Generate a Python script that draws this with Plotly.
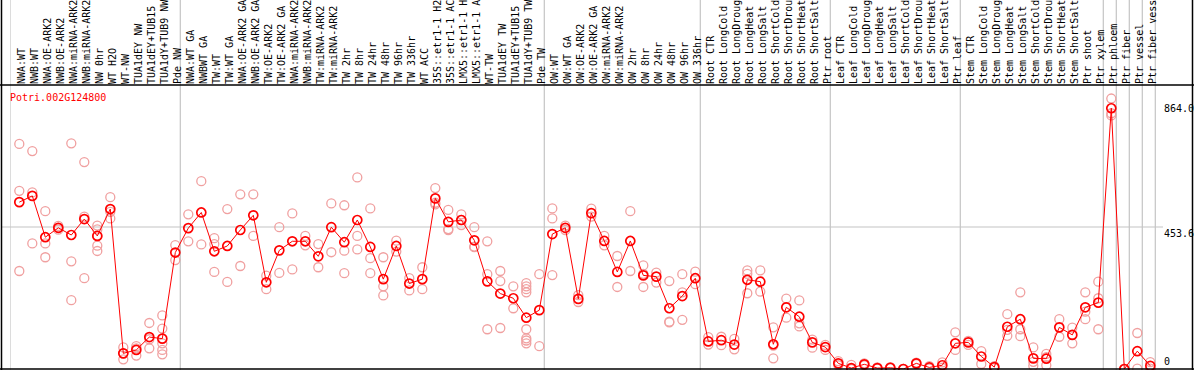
import plotly.graph_objects as go

gene = "Potri.002G124800"

labels = [
    "NWA:WT", "NWB:WT", "NWA:OE-ARK2", "NWB:OE-ARK2", "NWA:miRNA-ARK2", "NWB:miRNA-ARK2",
    "NW 0hr", "WT H2O", "WT-NW", "TUA1dEY NW", "TUA1dEY+TUB15", "TUA1dY+TUB9 NW", "Pde NW",
    "NWA:WT GA", "NWBWT GA", "TW:WT", "TW:WT GA", "NWA:OE-ARK2 GA", "NWB:OE-ARK2 GA",
    "TW:OE-ARK2", "TW:OE-ARK2 GA", "NWA:miRNA-ARK2", "NWB:miRNA-ARK2", "TW:miRNA-ARK2",
    "TW:miRNA-ARK2", "TW 2hr", "TW 8hr", "TW 24hr", "TW 48hr", "TW 96hr", "TW 336hr", "WT ACC",
    "35S::etr1-1 H2", "35S::etr1-1 AC", "LMX5::etr1-1 H", "LMX5::etr1-1 A", "WT-TW",
    "TUA1dEY TW", "TUA1dEY+TUB15", "TUA1dY+TUB9 TW", "Pde TW",
    "OW:WT", "OW:WT GA", "OW:OE-ARK2", "OW:OE-ARK2 GA", "OW:miRNA-ARK2", "OW:miRNA-ARK2",
    "OW 2hr", "OW 8hr", "OW 24hr", "OW 48hr", "OW 96hr", "OW 336hr",
    "Root CTR", "Root LongCold", "Root LongDroug", "Root LongHeat", "Root LongSalt",
    "Root ShortCold", "Root ShortDrou", "Root ShortHeat", "Root ShortSalt", "Ptr root",
    "Leaf CTR", "Leaf LongCold", "Leaf LongDroug", "Leaf LongHeat", "Leaf LongSalt",
    "Leaf ShortCold", "Leaf ShortDrou", "Leaf ShortHeat", "Leaf ShortSalt", "Ptr leaf",
    "Stem CTR", "Stem LongCold", "Stem LongDroug", "Stem LongHeat", "Stem LongSalt",
    "Stem ShortCold", "Stem ShortDrou", "Stem ShortHeat", "Stem ShortSalt", "Ptr shoot",
    "Ptr xylem", "Ptr phloem", "Ptr fiber", "Ptr vessel", "Ptr fiber vess",
]

means = [
    533, 553, 421, 451, 428, 479, 425, 511, 50, 61, 102, 97, 372,
    450, 500, 376, 393, 444, 491, 277, 379, 408, 408, 360, 453, 405, 476, 390, 287, 393,
    273, 287, 545, 470, 476, 411, 280, 241, 226, 164, 188,
    431, 451, 224, 498, 409, 310, 409, 299, 295, 194, 233, 290,
    88, 92, 78, 285, 279, 79, 197, 167, 85, 70,
    18, 3, 15, 3, 4, 0, 18, 5, 12, 82,
    85, 40, 6, 135, 159, 34, 33, 133, 109, 197, 212,
    833, 0, 57, 10,
]

replicates = [
    [719, 569, 313], [696, 564, 401], [504, 401, 357], [445, 451, 457], [721, 344, 220],
    [661, 487, 290], [458, 446, 425, 394, 377], [549, 502, 481], [69, 31, 50], [73, 43, 66],
    [147, 66, 95], [171, 129, 82, 61, 47], [396, 348],
    [494, 408], [600, 398], [418, 399, 310], [511, 278], [558, 329], [558, 425], [298, 255],
    [453, 307], [497, 318], [425, 395], [399, 325], [529, 373], [523, 378, 306],
    [612, 425, 382], [513, 354, 306], [357, 264, 235], [410, 375], [290, 251], [325, 255],
    [578, 526, 531], [508, 447, 444], [494, 460, 476], [453, 391, 389], [408, 303, 127],
    [313, 281, 131], [264, 194], [274, 264, 255, 245, 127, 98, 91, 82], [303, 73],
    [513, 481, 300], [458, 444], [236, 214], [512, 487], [425, 395], [361, 262], [504, 313],
    [331, 262, 304], [308, 276], [281, 149, 151], [303, 245, 157], [311, 271],
    [102, 78], [103, 76], [96, 63], [315, 304, 242], [315, 247], [133, 75, 34], [225, 164],
    [219, 136, 146], [94, 68], [77, 61],
    [25, 12], [13, 0], [18, 12], [5, 1], [6, 2], [0, 0], [20, 16], [9, 1], [21, 4], [117, 61],
    [90, 77], [57, 16], [9, 3], [175, 106, 125], [245, 127, 105], [69, 23, 10], [48, 38, 12],
    [159, 103], [132, 82], [245, 183, 159], [279, 226, 127],
    [864.0, 817, 810], [0, 0], [115, 1], [22, 1],
]

group_ends = [12, 40, 52, 62, 72, 83, 84, 85, 86, 87]

# ---------------------------------------------------------------------------
W, H = 1194, 370
ML, MR, MT, MB = 10, 38, 85, 1
PW, PH = W - ML - MR, H - MT - MB
STEP = 13.0            # pixels per sample column
FIRST = 19.3           # pixel x of the first column

xs = list(range(len(labels)))
rep_x, rep_y = [], []
for i, vals in enumerate(replicates):
    for v in vals:
        rep_x.append(i)
        rep_y.append(v)

data_max = max(max(v) for v in replicates)
y_top = data_max * 1.05
y_mid = y_top / 2

x0 = (ML - FIRST) / STEP
x1 = x0 + PW / STEP


def px_x(p):
    return (p - ML) / PW


def px_y(p):
    return (H - MB - p) / PH


mono = "DejaVu Sans Mono"

fig = go.Figure()
fig.add_trace(go.Scatter(
    x=rep_x, y=rep_y, mode="markers", cliponaxis=False, hoverinfo="skip",
    marker=dict(symbol="circle-open", size=9, color="#f0a0a0", line=dict(width=1.3)),
))
fig.add_trace(go.Scatter(
    x=xs, y=means, mode="lines+markers", cliponaxis=False,
    line=dict(color="#ff0000", width=1),
    marker=dict(symbol="circle-open", size=9, color="#ff0000", line=dict(width=1.7)),
))

shapes = []
grey = "#c4c4c4"
for xv in [x0] + [k + 0.385 for k in group_ends]:
    shapes.append(dict(type="line", xref="x", yref="paper", x0=xv, x1=xv,
                       y0=px_y(H + 2), y1=px_y(-2), layer="below",
                       line=dict(color=grey, width=1.2)))
shapes.append(dict(type="line", xref="paper", yref="y", x0=px_x(1), x1=px_x(1163),
                   y0=y_mid, y1=y_mid, layer="below", line=dict(color=grey, width=1.2)))
blk = dict(color="black", width=1.5)
shapes.append(dict(type="line", xref="paper", yref="paper", x0=px_x(1.5), x1=px_x(1.5),
                   y0=px_y(H + 2), y1=px_y(-2), line=blk))
shapes.append(dict(type="line", xref="paper", yref="paper", x0=px_x(1192.5), x1=px_x(1192.5),
                   y0=px_y(H + 2), y1=px_y(-2), line=blk))
shapes.append(dict(type="line", xref="paper", yref="paper", x0=px_x(0), x1=px_x(W),
                   y0=1, y1=1, line=blk))
shapes.append(dict(type="line", xref="paper", yref="paper", x0=px_x(0), x1=px_x(W),
                   y0=0, y1=0, line=blk))

annotations = [
    dict(text=gene, xref="paper", yref="paper", x=px_x(8), y=px_y(90), xanchor="left",
         yanchor="top", showarrow=False, font=dict(family=mono, size=10, color="#ff0000")),
    dict(text=f"{data_max:.1f}", xref="paper", yref="y", x=px_x(1162), y=data_max,
         xanchor="left", yanchor="top", yshift=-2, showarrow=False,
         font=dict(family=mono, size=10, color="black")),
    dict(text=f"{y_mid:.1f}", xref="paper", yref="y", x=px_x(1162), y=y_mid,
         xanchor="left", yanchor="top", yshift=1, showarrow=False,
         font=dict(family=mono, size=10, color="black")),
    dict(text="0", xref="paper", yref="y", x=px_x(1162), y=0,
         xanchor="left", yanchor="bottom", yshift=0, showarrow=False,
         font=dict(family=mono, size=10, color="black")),
]

fig.update_layout(
    width=W, height=H, template="none",
    margin=dict(l=ML, r=MR, t=MT, b=MB, pad=0),
    paper_bgcolor="white", plot_bgcolor="white", showlegend=False,
    shapes=shapes, annotations=annotations,
    xaxis=dict(range=[x0, x1], side="top", tickmode="array", tickvals=xs, ticktext=labels,
               tickangle=-90, tickfont=dict(family=mono, size=10, color="black"),
               ticklabelshift=2,
               showgrid=False, zeroline=False, showline=False, ticks="", automargin=False,
               fixedrange=True),
    yaxis=dict(range=[0, y_top], showticklabels=False, showgrid=False, zeroline=False,
               showline=False, ticks="", automargin=False, fixedrange=True),
)

fig.write_html(
    "out.html",
    config={"displayModeBar": False},
    post_script="document.body.style.margin='0px';document.body.style.overflow='hidden';",
)
